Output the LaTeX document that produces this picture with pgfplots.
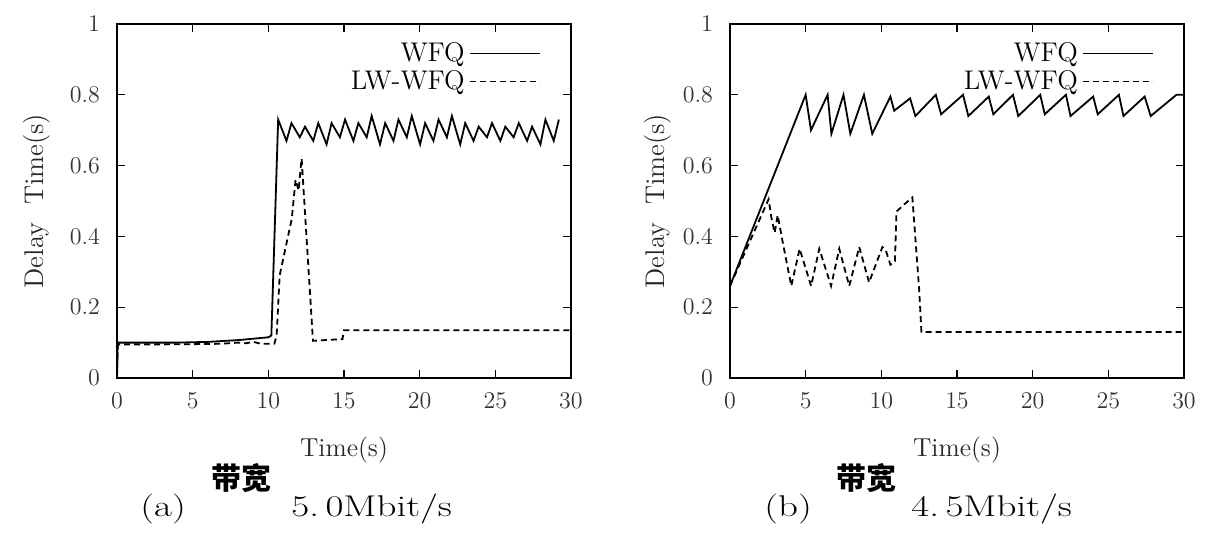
\documentclass[border=0pt]{standalone}
\usepackage{fontspec}
\newfontfamily\cjk{Noto Sans CJK SC}
\usepackage{pgfplots}
\pgfplotsset{compat=1.18}

\pgfplotsset{
  delay/.style={
    scale only axis, width=227pt, height=177pt,
    xmin=0, xmax=30, ymin=0, ymax=1,
    xtick={0,5,10,15,20,25,30}, ytick={0,0.2,0.4,0.6,0.8,1},
    xtick pos=both, ytick pos=both,
    tick align=inside, major tick length=4pt,
    axis line style={line width=0.9pt},
    every tick/.style={black, line width=0.6pt},
    tick label style={font=\fontsize{12}{14}\selectfont, text=black!80},
    xticklabel style={yshift=-4pt},
    yticklabel style={xshift=-5pt},
    xlabel={Time(s)}, ylabel={Delay\ \ Time(s)},
    every axis x label/.style={at={(axis description cs:0.5,0)}, anchor=center,
      yshift=-36pt, font=\fontsize{13}{15}\selectfont, text=black!85},
    every axis y label/.style={at={(axis description cs:-0.176,0.5)}, anchor=center,
      rotate=90, font=\fontsize{13.5}{15}\selectfont, text=black!85},
    legend plot pos=right, legend cell align=right,
    legend image code/.code={\draw[##1] (0pt,0pt) -- (35pt,0pt);},
    legend style={draw=none, fill=none, at={(rel axis cs:1,1)}, anchor=north east,
      xshift=-12pt, yshift=-5pt, font=\fontsize{13.5}{15}\selectfont, row sep=-1pt},
  },
  wfq/.style={black, line width=0.9pt, no markers},
  lw/.style={black, line width=0.9pt, dash pattern=on 3pt off 2pt, no markers},
}

\newcommand{\capfont}{\fontsize{15}{18}\selectfont}

\begin{document}
\begin{tikzpicture}
\useasboundingbox (-58.5pt,-79pt) rectangle (549.5pt,189pt);

% (a) 5.0 Mbit/s
\begin{axis}[delay, name=a, at={(0pt,0pt)}]
\addplot[wfq] coordinates {
  (0,0) (0.05,0.10) (2,0.10) (4,0.10) (6,0.102) (8,0.107) (10,0.115) (10.2,0.12)
  (10.65,0.73) (11.20,0.67) (11.53,0.72) (12.08,0.68) (12.42,0.71) (12.97,0.67)
  (13.30,0.72) (13.85,0.66) (14.18,0.72) (14.73,0.68) (15.07,0.73) (15.62,0.67)
  (15.95,0.72) (16.50,0.68) (16.83,0.74) (17.38,0.66) (17.72,0.72) (18.27,0.67)
  (18.60,0.73) (19.15,0.68) (19.48,0.74) (20.03,0.66) (20.36,0.72) (20.91,0.67)
  (21.25,0.73) (21.80,0.68) (22.13,0.74) (22.68,0.66) (23.01,0.72) (23.56,0.67)
  (23.90,0.71) (24.45,0.68) (24.78,0.72) (25.33,0.67) (25.66,0.71) (26.21,0.68)
  (26.55,0.72) (27.10,0.67) (27.43,0.71) (27.98,0.66) (28.31,0.73) (28.86,0.67)
  (29.20,0.73)
};
\addlegendentry{WFQ}
\addplot[lw] coordinates {
  (0,0) (0.05,0.095) (3,0.095) (6,0.096) (7,0.097) (8,0.10) (8.5,0.098) (9,0.102)
  (9.5,0.097) (10.4,0.097) (10.55,0.12) (10.75,0.29) (11.0,0.34) (11.3,0.40)
  (11.55,0.45) (11.8,0.56) (12.0,0.53) (12.2,0.62) (12.95,0.105) (14.9,0.11)
  (15.0,0.135) (30,0.135)
};
\addlegendentry{LW-WFQ}
\end{axis}
\node[anchor=base west, inner sep=0pt, font=\capfont] at ([xshift=11.5pt,yshift=-69pt]a.south west) {\scalebox{1.3}[1]{(a)}};
\node[anchor=south west, inner sep=0pt, font=\fontsize{15}{17}\selectfont] at ([xshift=47pt,yshift=-57.5pt]a.south west) {\cjk\bfseries 带宽};
\node[anchor=base west, inner sep=0pt, font=\capfont] at ([xshift=87pt,yshift=-69pt]a.south west) {\scalebox{1.3}[1]{5.\,0Mbit/s}};

% (b) 4.5 Mbit/s
\begin{axis}[delay, name=b, at={(306.5pt,0pt)},
  every axis y label/.append style={at={(axis description cs:-0.16,0.5)}}]
\addplot[wfq] coordinates {
  (0,0.26) (5.0,0.80) (5.35,0.70) (6.45,0.80) (6.7,0.69) (7.5,0.80) (7.95,0.69)
  (8.85,0.80) (9.4,0.69) (10.6,0.795) (10.85,0.755) (11.9,0.79) (12.25,0.74)
  (13.6,0.80) (13.95,0.745) (15.4,0.80) (15.75,0.74) (17.1,0.795) (17.4,0.745)
  (18.7,0.80) (19.05,0.74) (20.5,0.80) (20.8,0.745) (22.2,0.80) (22.5,0.74)
  (24.0,0.795) (24.3,0.745) (25.7,0.80) (26.0,0.74) (27.4,0.795) (27.8,0.74)
  (29.5,0.80) (30,0.80)
};
\addlegendentry{WFQ}
\addplot[lw] coordinates {
  (0,0.26) (2.55,0.505) (2.75,0.45) (2.95,0.41) (3.15,0.46) (3.5,0.38) (4.05,0.26)
  (4.6,0.365) (5.36,0.26) (5.9,0.365) (6.68,0.26) (7.22,0.365) (7.88,0.26)
  (8.54,0.37) (9.19,0.27) (10.07,0.37) (10.3,0.36) (10.6,0.32) (10.9,0.33)
  (11.0,0.47) (11.5,0.49) (12.05,0.51) (12.5,0.25) (12.65,0.13) (30,0.13)
};
\addlegendentry{LW-WFQ}
\end{axis}
\node[anchor=base west, inner sep=0pt, font=\capfont] at ([xshift=17pt,yshift=-69pt]b.south west) {\scalebox{1.3}[1]{(b)}};
\node[anchor=south west, inner sep=0pt, font=\fontsize{15}{17}\selectfont] at ([xshift=53pt,yshift=-57.5pt]b.south west) {\cjk\bfseries 带宽};
\node[anchor=base west, inner sep=0pt, font=\capfont] at ([xshift=90.5pt,yshift=-69pt]b.south west) {\scalebox{1.3}[1]{4.\,5Mbit/s}};
\end{tikzpicture}
\end{document}
